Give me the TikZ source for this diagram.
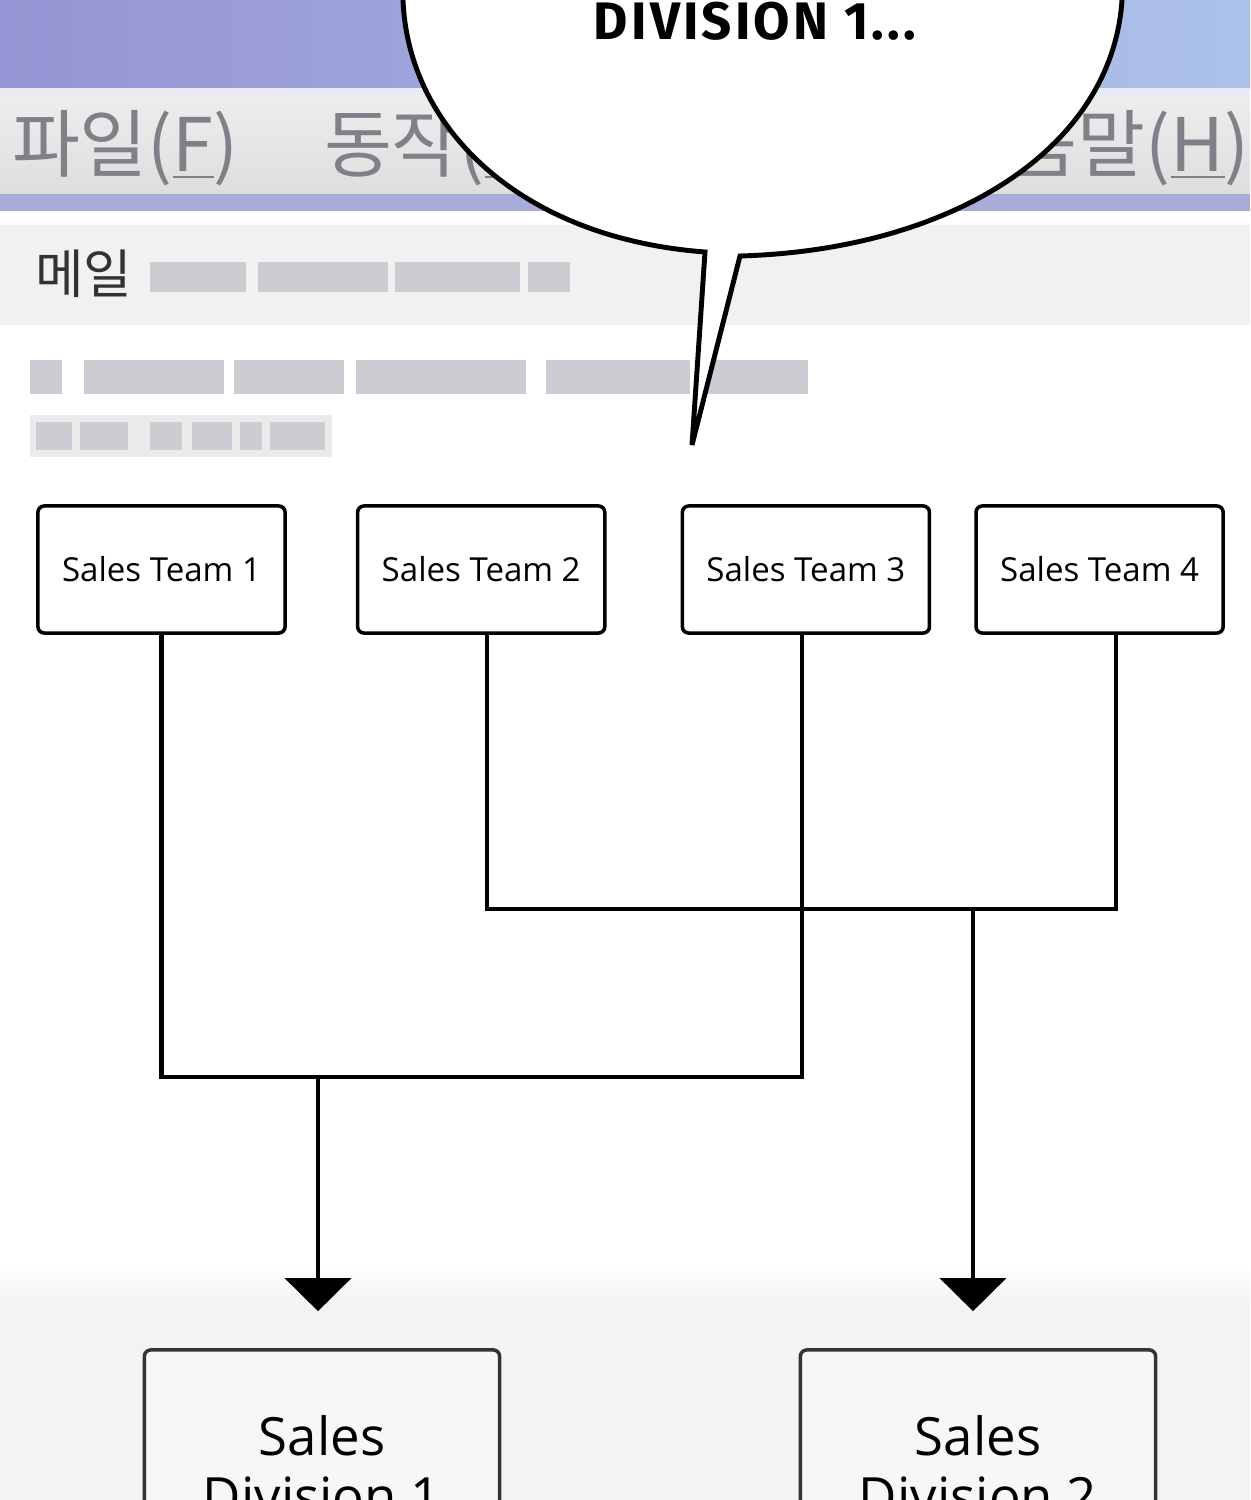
\documentclass[tikz,border=0pt]{standalone}
\usepackage{fontspec}
\setmainfont{Open Sans}
\newfontfamily\kofont{Noto Sans CJK KR}
\newfontfamily\bubblefont{Fira Sans}
\usepackage{tikz}
\usetikzlibrary{arrows.meta, positioning, calc}

\definecolor{titlebarL}{RGB}{150,148,212}
\definecolor{titlebarR}{RGB}{172,194,234}
\definecolor{menutext}{RGB}{128,128,136}
\definecolor{menuline}{RGB}{168,172,218}
\definecolor{mailrow}{RGB}{241,241,241}
\definecolor{blurtext}{RGB}{204,204,210}
\definecolor{paper}{RGB}{243,243,243}

\begin{document}
\begin{tikzpicture}[
  x=0.01cm, y=-0.01cm,
  line width=1.15pt,
  >={Triangle[width=18.8pt, length=9.4pt]},
  team/.style     = {draw, rounded corners=1.8pt, line width=1pt, fill=white,
                     minimum width=2.47cm, minimum height=1.27cm,
                     font=\fontsize{9.4}{11}\selectfont},
  division/.style = {draw=black!80, rounded corners=1.8pt, line width=1pt, fill=black!3,
                     minimum width=3.55cm, minimum height=2.32cm, align=center,
                     font=\fontsize{15}{17}\selectfont},
  menu/.style     = {anchor=base west, inner sep=0pt, text=menutext,
                     font=\kofont\fontsize{21}{21}\selectfont},
  blur/.style     = {fill=blurtext, draw=none},
]
\useasboundingbox (0,0) rectangle (1250,1500);
\clip (0,0) rectangle (1250,1500);

%--- mail window behind the panel ---
  \fill[white] (0,0) rectangle (1250,1500);
  \shade[left color=titlebarL, right color=titlebarR] (0,0) rectangle (1250,90);
  \fill[white!80!titlebarL] (0,88) rectangle (1250,96);
  \shade[top color=black!7, bottom color=black!13] (0,96) rectangle (1250,194);
  \fill[menuline] (0,194) rectangle (1250,211);
  \fill[mailrow] (0,225) rectangle (1250,325);
  \shade[top color=white, bottom color=paper] (0,1265) rectangle (1250,1305);
  \fill[paper] (0,1305) rectangle (1250,1500);

  \node[menu] (mfile) at (10,172)  {파일(\underline{F})};
  \node[menu] (mact)  at (322,172) {동작(\underline{A})};
  \node[menu] (mhelp) at (940,172) {도움말(\underline{H})};

  \node[anchor=base west, inner sep=0pt, text=black!80,
        font=\kofont\fontsize{15}{15}\selectfont] (mail) at (33,294) {메일};

  % blurred lines of the mail
  \foreach \a/\b in {150/246, 258/388, 395/520, 528/570}
    \fill[blur] (\a,262) rectangle (\b,292);
  \foreach \a/\b in {30/62, 84/224, 234/344, 356/526, 546/690, 698/808}
    \fill[blur] (\a,360) rectangle (\b,394);
  \fill[black!8] (30,415) rectangle (332,457);
  \foreach \a/\b in {36/72, 80/128, 150/182, 192/232, 240/262, 270/325}
    \fill[blur] (\a,422) rectangle (\b,450);

%--- speech bubble ---
  \filldraw[fill=white, line width=1.4pt, line join=miter]
    (705,252) .. controls (520,238) and (408,128) .. (403,0)
    -- (400,-40) -- (1125,-40) -- (1122,0)
    .. controls (1112,150) and (950,250) .. (740,256)
    -- (692,445) -- cycle;
  \node[anchor=base, inner sep=0pt,
        font=\bubblefont\bfseries\fontsize{15}{15}\selectfont\addfontfeature{LetterSpace=6}]
        (speech) at (755,40) {DIVISION 1...};

%--- chart ---
  \node[team]                     (t1) at (161.5,569.5) {Sales Team 1};
  \node[team, right=0.69cm of t1] (t2) {Sales Team 2};
  \node[team, right=0.74cm of t2] (t3) {Sales Team 3};
  \node[team, right=0.43cm of t3] (t4) {Sales Team 4};

  \node[division] (d1) at (322,1466) {Sales\\Division 1};
  \node[division] (d2) at (978,1466) {Sales\\Division 2};

  \coordinate (s1) at (t1.south);
  \coordinate (s2) at ($(t2.south)+(5.5,0)$);
  \coordinate (s3) at ($(t3.south)+(-4,0)$);
  \coordinate (s4) at ($(t4.south)+(16.5,0)$);
  \coordinate (bus1) at ($(s1)+(0,442)$);
  \coordinate (bus2) at ($(s2)+(0,274)$);

  \draw (s1) -- (bus1) -- (s3 |- bus1) -- (s3);
  \draw (s2) -- (bus2) -- (s4 |- bus2) -- (s4);

  \draw[->, shorten >=0.37cm] ($(d1.north |- bus1)+(-4,0)$) -- ($(d1.north)+(-4,0)$);
  \draw[->, shorten >=0.37cm] ($(d2.north |- bus2)+(-5,0)$) -- ($(d2.north)+(-5,0)$);
\end{tikzpicture}
\end{document}
